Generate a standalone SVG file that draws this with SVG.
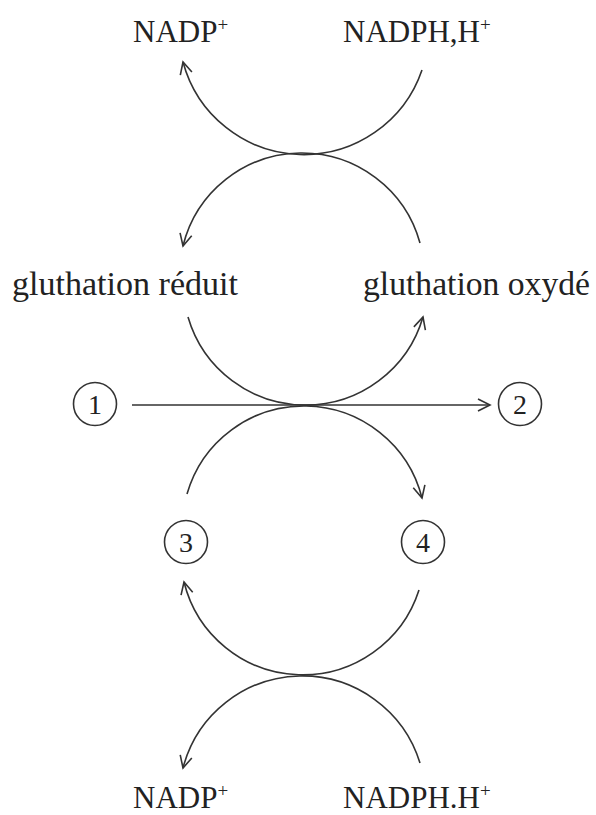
<svg xmlns="http://www.w3.org/2000/svg" width="596" height="815" viewBox="0 0 596 815">
<defs>
<style>
.t{font-family:"Liberation Serif","Times New Roman",serif;fill:#222;}
.lbl{font-size:31px;}
.sup{font-size:19px;}
.glu{font-size:33px;}
.num{font-size:28px;text-anchor:middle;}
.c{fill:none;stroke:#333;stroke-width:1.6;}
.arc{fill:none;stroke:#333;stroke-width:1.6;marker-end:url(#ah);}
.plain{fill:none;stroke:#333;stroke-width:1.6;}
</style>
<marker id="ah" viewBox="-14 -8 16 16" refX="0" refY="0" markerWidth="16" markerHeight="16" markerUnits="userSpaceOnUse" orient="auto">
<path d="M-12,-6 L0,0 L-12,6" fill="none" stroke="#333" stroke-width="1.6"/>
</marker>
</defs>
<rect width="596" height="815" fill="#fff"/>

<g id="nadp-top"><text class="t lbl" x="133" y="42">NADP<tspan class="sup" dy="-11">+</tspan></text></g>
<g id="nadph-top"><text class="t lbl" x="343" y="42">NADPH,H<tspan class="sup" dy="-11">+</tspan></text></g>
<g id="gsh"><text class="t glu" x="12" y="295" textLength="226" lengthAdjust="spacingAndGlyphs">gluthation réduit</text></g>
<g id="gssg"><text class="t glu" x="363" y="295" textLength="227" lengthAdjust="spacingAndGlyphs">gluthation oxydé</text></g>
<g id="n1"><circle class="c" cx="95" cy="404" r="21.5"/><text class="t num" x="95" y="414">1</text></g>
<g id="n2"><circle class="c" cx="520" cy="404" r="21.5"/><text class="t num" x="520" y="414">2</text></g>
<g id="n3"><circle class="c" cx="186" cy="542" r="21.5"/><text class="t num" x="186" y="552">3</text></g>
<g id="n4"><circle class="c" cx="423" cy="542" r="21.5"/><text class="t num" x="423" y="552">4</text></g>
<g id="nadp-bot"><text class="t lbl" x="133" y="808">NADP<tspan class="sup" dy="-11">+</tspan></text></g>
<g id="nadph-bot"><text class="t lbl" x="343" y="808">NADPH.H<tspan class="sup" dy="-11">+</tspan></text></g>

<g id="connectors">
<path class="arc" d="M422,70 A125,125 0 0 1 183,62"/>
<path class="arc" d="M420,243 A122.5,122.5 0 0 0 183,246"/>
<path class="arc" d="M188,317 A122.4,122.4 0 0 0 423,317"/>
<path class="plain" d="M132,405 L490,405" marker-end="url(#ah)"/>
<path class="arc" d="M187,494 A121.7,121.7 0 0 1 422,498"/>
<path class="arc" d="M419,590 A122.2,122.2 0 0 1 184,582"/>
<path class="arc" d="M420,763 A123.2,123.2 0 0 0 183,768"/>
</g>
</svg>
